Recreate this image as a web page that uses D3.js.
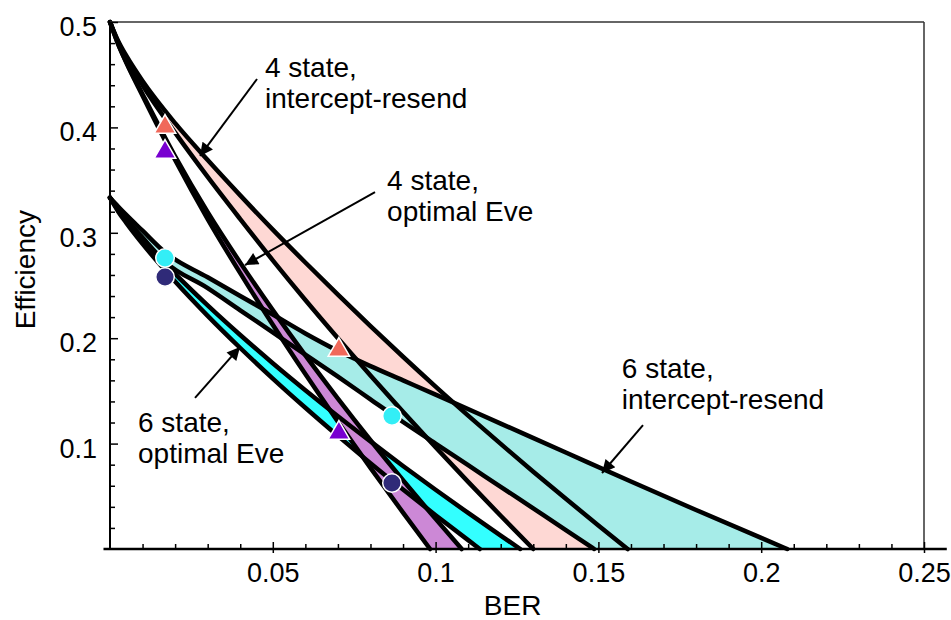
<!DOCTYPE html>
<html><head><meta charset="utf-8">
<script src="https://cdn.jsdelivr.net/npm/d3@7"></script>
<style>
body{margin:0;background:#fff}
text{font-family:"Liberation Sans",Arial,Helvetica,sans-serif;fill:#000}
</style>
</head><body>
<svg id="chart" width="951" height="620"></svg>
<script>
// ---------- data ----------
const berTicks = [0.05, 0.1, 0.15, 0.2, 0.25];
const berTickLabels = ["0.05", "0.1", "0.15", "0.2", "0.25"];
const berMinorTicks = [0.01,0.02,0.03,0.04,0.06,0.07,0.08,0.09,0.11,0.12,0.13,0.14,0.16,0.17,0.18,0.19,0.21,0.22,0.23,0.24];
const effTicks = [0.1, 0.2, 0.3, 0.4, 0.5];
const effTickLabels = ["0.1", "0.2", "0.3", "0.4", "0.5"];
const effMinorTicks = [0.02,0.04,0.06,0.08,0.12,0.14,0.16,0.18,0.22,0.24,0.26,0.28,0.32,0.34,0.36,0.38,0.42,0.44,0.46,0.48];

// 4 state, optimal Eve (purple band)
const purpleLowBer  = [0, 0.0025, 0.005, 0.01, 0.02, 0.03, 0.04, 0.05, 0.06, 0.07, 0.08, 0.09, 0.0983];
const purpleLowEff  = [0.5, 0.4790, 0.4615, 0.4300, 0.3690, 0.3130, 0.2617, 0.2128, 0.1660, 0.1208, 0.0770, 0.0345, 0];
const purpleHighBer = [0, 0.0025, 0.005, 0.01, 0.02, 0.03, 0.04, 0.05, 0.06, 0.07, 0.08, 0.09, 0.10, 0.108];
const purpleHighEff = [0.5, 0.4792, 0.4620, 0.4315, 0.3725, 0.3195, 0.2717, 0.2266, 0.1837, 0.1427, 0.1032, 0.0652, 0.0286, 0];

// 4 state, intercept-resend (pink band)
const pinkLowBer  = [0, 0.0025, 0.005, 0.01, 0.02, 0.03, 0.04, 0.05, 0.06, 0.07, 0.08, 0.09, 0.10, 0.11, 0.12, 0.13];
const pinkLowEff  = [0.5, 0.4810, 0.4660, 0.4400, 0.3950, 0.3530, 0.3130, 0.2739, 0.2363, 0.2000, 0.1646, 0.1301, 0.0965, 0.0637, 0.0315, 0];
const pinkHighBer = [0, 0.0025, 0.005, 0.01, 0.02, 0.03, 0.04, 0.05, 0.06, 0.07, 0.08, 0.09, 0.10, 0.11, 0.12, 0.13, 0.14, 0.15, 0.159];
const pinkHighEff = [0.5, 0.4820, 0.4680, 0.4440, 0.4040, 0.3690, 0.3355, 0.3030, 0.2718, 0.2414, 0.2115, 0.1824, 0.1541, 0.1266, 0.0997, 0.0733, 0.0476, 0.0224, 0];

// 6 state, intercept-resend (light cyan band)
const tealHighBer = [0, 0.0025, 0.005, 0.01, 0.0169, 0.03, 0.04, 0.05, 0.06, 0.07, 0.08, 0.09, 0.10, 0.12, 0.14, 0.16, 0.18, 0.20, 0.208];
const tealHighEff = [0.3333, 0.3250, 0.3170, 0.3020, 0.2815, 0.2578, 0.2400, 0.2225, 0.2045, 0.1880, 0.1735, 0.1600, 0.1465, 0.1190, 0.0915, 0.0640, 0.0370, 0.0105, 0];
const tealLowBer  = [0, 0.0025, 0.005, 0.01, 0.0169, 0.03, 0.04, 0.05, 0.06, 0.07, 0.08, 0.09, 0.10, 0.11, 0.12, 0.13, 0.14, 0.1487];
const tealLowEff  = [0.3333, 0.3225, 0.3130, 0.2955, 0.2725, 0.2475, 0.2265, 0.2055, 0.1845, 0.1635, 0.1420, 0.1205, 0.1000, 0.0795, 0.0590, 0.0385, 0.0180, 0];

// 6 state, optimal Eve (bright cyan band)
const cyanHighBer = [0, 0.0025, 0.005, 0.01, 0.02, 0.03, 0.04, 0.05, 0.06, 0.07, 0.08, 0.09, 0.10, 0.11, 0.12, 0.126];
const cyanHighEff = [0.3333, 0.3216, 0.3117, 0.2936, 0.2610, 0.2311, 0.2030, 0.1763, 0.1507, 0.1260, 0.1021, 0.0788, 0.0562, 0.0342, 0.0127, 0];
const cyanLowBer  = [0, 0.0025, 0.005, 0.01, 0.02, 0.03, 0.04, 0.05, 0.06, 0.07, 0.08, 0.09, 0.10, 0.11, 0.1136];
const cyanLowEff  = [0.3333, 0.3203, 0.3094, 0.2895, 0.2538, 0.2212, 0.1907, 0.1617, 0.1340, 0.1073, 0.0814, 0.0564, 0.0321, 0.0084, 0];

// markers
const triIRBer  = [0.0169, 0.0703];  const triIREff  = [0.4004, 0.1888];
const triOptBer = [0.0169, 0.0703];  const triOptEff = [0.3767, 0.1101];
const dotIRBer  = [0.0169, 0.0866];  const dotIREff  = [0.2761, 0.1262];
const dotOptBer = [0.0169, 0.0866];  const dotOptEff = [0.2581, 0.0626];

// annotations: label lines, anchor (left, first baseline) and arrow tail -> tip, in data units
const noteLines  = [["4 state,", "intercept-resend"], ["4 state,", "optimal Eve"], ["6 state,", "optimal Eve"], ["6 state,", "intercept-resend"]];
const noteBer    = [0.0476, 0.0851, 0.0086, 0.1572];
const noteEff    = [0.4478, 0.3406, 0.1110, 0.1622];
const arrowFromBer = [0.04515, 0.08139, 0.02611, 0.1637];
const arrowFromEff = [0.4459, 0.3387, 0.1433, 0.1176];
const arrowToBer   = [0.02764, 0.04146, 0.03993, 0.1511];
const arrowToEff   = [0.3729, 0.2694, 0.1917, 0.0721];

// ---------- drawing ----------
const svg = d3.select("#chart");
const x = d3.scaleLinear().domain([0, 0.25]).range([110, 924]);
const y = d3.scaleLinear().domain([0, 0.5]).range([549, 22]);

const pts = (bs, es) => bs.map((b, i) => [x(b), y(es[i])]);
const line = d3.line().curve(d3.curveMonotoneX);
// lower edge traced backwards (mirror x so monotone interpolation still applies)
const lineBack = d3.line().curve(d3.curveMonotoneX).x(p => -p[0]).y(p => p[1]);

const bands = [
  {hiB: pinkHighBer, hiE: pinkHighEff, loB: pinkLowBer, loE: pinkLowEff, fill: "#fed8d4"},
  {hiB: tealHighBer, hiE: tealHighEff, loB: tealLowBer, loE: tealLowEff, fill: "#a6ece8"},
  {hiB: cyanHighBer, hiE: cyanHighEff, loB: cyanLowBer, loE: cyanLowEff, fill: "#33ffff"},
  {hiB: purpleHighBer, hiE: purpleHighEff, loB: purpleLowBer, loE: purpleLowEff, fill: "#cc88d6"}
];

function backPath(p) {
  const rev = p.slice().reverse();
  const d = lineBack(rev);
  // restore the mirrored x values
  return d.replace(/^M/, "L").replace(/(-?\d+\.?\d*(?:e-?\d+)?),(-?\d+\.?\d*(?:e-?\d+)?)/g, (m, a, c) => (-parseFloat(a)) + "," + c);
}

// fills
bands.forEach(b => {
  const hi = line(pts(b.hiB, b.hiE));
  svg.append("path")
    .attr("d", hi + backPath(pts(b.loB, b.loE)) + "Z")
    .attr("fill", b.fill).attr("stroke", "none");
});

// black edges
bands.forEach(b => {
  [[b.hiB, b.hiE], [b.loB, b.loE]].forEach(([bs, es]) => {
    svg.append("path").attr("d", line(pts(bs, es)))
      .attr("fill", "none").attr("stroke", "#000").attr("stroke-width", 4.5)
      .attr("stroke-linejoin", "round").attr("stroke-linecap", "round");
  });
});

// frame
svg.append("line").attr("x1", x(0)).attr("x2", x(0.25)).attr("y1", y(0.5)).attr("y2", y(0.5)).attr("stroke", "#333").attr("stroke-width", 1.5);
svg.append("line").attr("x1", x(0.25)).attr("x2", x(0.25)).attr("y1", y(0.5)).attr("y2", y(0)).attr("stroke", "#333").attr("stroke-width", 1.5);

// x axis
const gx = svg.append("g").attr("transform", `translate(0,${y(0)})`);
gx.append("g").call(d3.axisBottom(x).tickValues(berMinorTicks).tickSize(-5).tickFormat(""));
gx.append("g").call(d3.axisBottom(x).tickValues(berTicks).tickSize(4).tickFormat(""));
gx.append("g").call(d3.axisBottom(x).tickValues(berTicks).tickSize(-7).tickFormat((d, i) => berTickLabels[i]));
gx.selectAll(".domain").remove();
gx.selectAll("line").attr("stroke", "#000").attr("stroke-width", 1.5);
gx.selectAll("text").attr("y", 33).attr("dy", 0).attr("font-size", 27).attr("font-family", null).attr("fill", "#000");
gx.append("line").attr("x1", x(-0.002)).attr("x2", x(0.257)).attr("y1", 0).attr("y2", 0).attr("stroke", "#000").attr("stroke-width", 2.5);

// y axis
const gy = svg.append("g").attr("transform", `translate(${x(0)},0)`);
gy.append("g").call(d3.axisLeft(y).tickValues(effMinorTicks).tickSize(-5).tickFormat(""));
gy.append("g").call(d3.axisLeft(y).tickValues(effTicks).tickSize(-8).tickFormat((d, i) => effTickLabels[i]));
gy.selectAll(".domain").remove();
gy.selectAll("line").attr("stroke", "#000").attr("stroke-width", 1.5);
gy.selectAll("text").attr("x", -13).attr("dy", 0).attr("y", 13.5).attr("font-size", 27).attr("font-family", null).attr("fill", "#000");
gy.append("line").attr("x1", 0).attr("x2", 0).attr("y1", y(0.5)).attr("y2", y(0)).attr("stroke", "#000").attr("stroke-width", 2);

// axis titles
svg.append("text").attr("x", x(0.1148)).attr("y", 615).attr("font-size", 28).text("BER");
svg.append("text").attr("transform", `translate(35,${y(0.265)}) rotate(-90)`).attr("text-anchor", "middle").attr("font-size", 28).text("Efficiency");

// markers
const tri = d3.symbol().type(d3.symbolTriangle).size(200);
const addMarkers = (bs, es, shape, color) => {
  bs.forEach((b, i) => {
    svg.append("path").attr("d", shape).attr("transform", `translate(${x(b)},${y(es[i])})`)
      .attr("fill", color).attr("stroke", "#fff").attr("stroke-width", 1.5);
  });
};
addMarkers(triIRBer, triIREff, tri(), "#f0685a");
addMarkers(triOptBer, triOptEff, tri(), "#7800d0");
const circ = d3.symbol().type(d3.symbolCircle).size(270);
addMarkers(dotIRBer, dotIREff, circ(), "#33eef6");
addMarkers(dotOptBer, dotOptEff, circ(), "#2f2a78");

// arrows
const defs = svg.append("defs");
defs.append("marker").attr("id", "ah").attr("viewBox", "0 0 10 10").attr("refX", 10).attr("refY", 5)
  .attr("markerWidth", 9).attr("markerHeight", 6.5).attr("markerUnits", "strokeWidth").attr("orient", "auto")
  .append("path").attr("d", "M0,0L10,5L0,10Z").attr("fill", "#000");
arrowFromBer.forEach((b, i) => {
  svg.append("line").attr("x1", x(b)).attr("y1", y(arrowFromEff[i]))
    .attr("x2", x(arrowToBer[i])).attr("y2", y(arrowToEff[i]))
    .attr("stroke", "#000").attr("stroke-width", 2).attr("marker-end", "url(#ah)");
});

// notes
noteLines.forEach((lines, i) => {
  const t = svg.append("text").attr("x", x(noteBer[i])).attr("y", y(noteEff[i])).attr("font-size", 28);
  lines.forEach((s, j) => t.append("tspan").attr("x", x(noteBer[i])).attr("dy", j === 0 ? 0 : 31).text(s));
});
</script>
</body></html>
